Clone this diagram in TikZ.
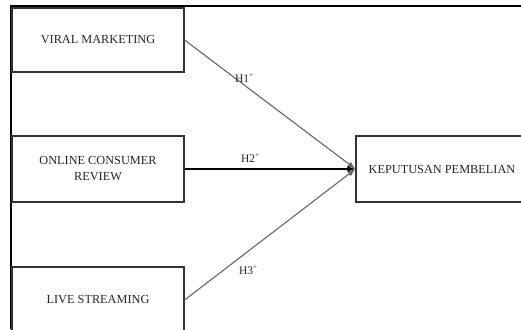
\documentclass[tikz,border=0pt]{standalone}
\usepackage{fontspec}
\setmainfont{Liberation Serif}
\usetikzlibrary{arrows.meta}
\begin{document}
\begin{tikzpicture}[x=1pt,y=-1pt,
  varbox/.style={draw=black!80, line width=1.1pt, minimum width=172pt, inner sep=0pt,
    font=\fontsize{12.3}{16}\selectfont, text=black!85, align=center},
  hlabel/.style={font=\fontsize{11.5}{13}\selectfont, text=black!85, inner sep=0pt},
  conn/.style={line width=1.1pt, -{Latex[length=8pt,width=6pt]}}]
\useasboundingbox (0,0) rectangle (521,329);
\clip (0,0) rectangle (521,329);
\fill[white] (0,0) rectangle (521,329);
% frame
\draw[line width=1.8pt, black] (11,329) -- (11,6) -- (521,6);
% boxes
\node[varbox, minimum height=64pt] (vm) at (98,40) {VIRAL MARKETING};
\node[varbox, minimum height=66pt] (ocr) at (98,169) {ONLINE CONSUMER\\REVIEW};
\node[varbox, minimum height=66pt] (ls) at (98,300) {\raisebox{-7pt}{LIVE STREAMING}};
\node[varbox, minimum height=66pt] (kp) at (442,169) {KEPUTUSAN PEMBELIAN};
% connectors
\draw[conn, draw=black!60] (vm.east) -- (kp.west);
\draw[conn, draw=black] (ocr.east) -- (kp.west);
\draw[conn, draw=black!60] (ls.east) -- (kp.west);
% labels
\node[hlabel] (h1) at (244,78) {H1\raisebox{5pt}{\scriptsize +}};
\node[hlabel] (h2) at (250,158) {H2\raisebox{5pt}{\scriptsize +}};
\node[hlabel] (h3) at (248,270) {H3\raisebox{5pt}{\scriptsize +}};
\end{tikzpicture}
\end{document}
